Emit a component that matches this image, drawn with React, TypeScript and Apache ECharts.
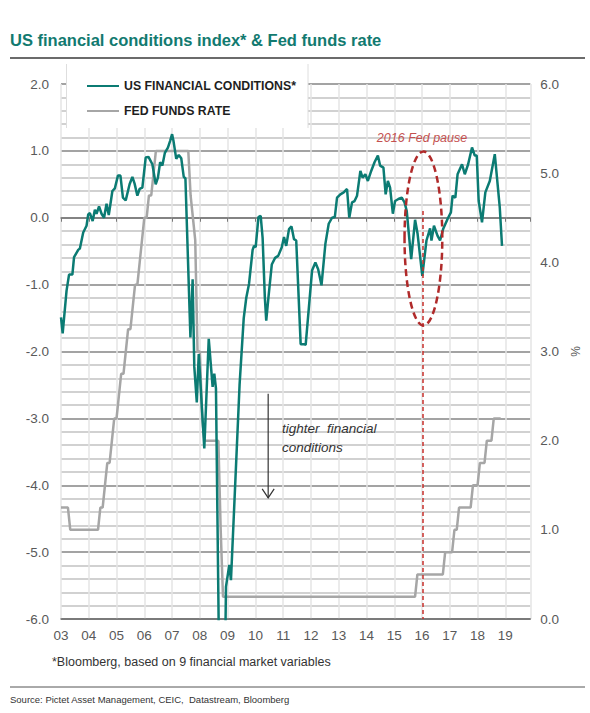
import { useEffect, useRef } from 'react';
import * as echarts from 'echarts';

const titleText = 'US financial conditions index* & Fed funds rate';
const fciName = 'US FINANCIAL CONDITIONS*';
const ffrName = 'FED FUNDS RATE';
const footnote = '*Bloomberg, based on 9 financial market variables';
const sourceText = 'Source: Pictet Asset Management, CEIC,  Datastream, Bloomberg';

// Bloomberg US financial conditions index (left axis)
const fciDates = [
  2003.00, 2003.06, 2003.20, 2003.29, 2003.41, 2003.47, 2003.62, 2003.68, 2003.80, 2003.92, 2003.98,
  2004.04, 2004.14, 2004.22, 2004.28, 2004.37, 2004.46, 2004.55, 2004.64, 2004.72, 2004.76, 2004.85, 2004.94,
  2005.05, 2005.14, 2005.23, 2005.33, 2005.47, 2005.57, 2005.65, 2005.75, 2005.83, 2005.93,
  2006.05, 2006.15, 2006.29, 2006.41, 2006.49, 2006.57, 2006.65, 2006.74, 2006.85, 2006.93,
  2007.00, 2007.05, 2007.15, 2007.24, 2007.33, 2007.42, 2007.48, 2007.66, 2007.74, 2007.80, 2007.89, 2007.96,
  2008.16, 2008.32, 2008.46, 2008.52, 2008.58, 2008.80, 2008.94,
  2009.06, 2009.12, 2009.25, 2009.43, 2009.58, 2009.67, 2009.77, 2009.90, 2009.95,
  2010.01, 2010.11, 2010.19, 2010.26, 2010.34, 2010.39, 2010.47, 2010.59, 2010.71, 2010.82, 2010.95,
  2011.03, 2011.11, 2011.21, 2011.30, 2011.39, 2011.47, 2011.63, 2011.75, 2011.81,
  2012.04, 2012.16, 2012.26, 2012.38, 2012.52, 2012.64, 2012.76, 2012.86, 2012.94,
  2013.06, 2013.18, 2013.30, 2013.38, 2013.48, 2013.57, 2013.66, 2013.78, 2013.86, 2013.96,
  2014.05, 2014.17, 2014.29, 2014.41, 2014.49, 2014.61, 2014.69, 2014.77, 2014.85, 2014.95,
  2015.03, 2015.15, 2015.27, 2015.37, 2015.45, 2015.61, 2015.75, 2015.84,
  2016.01, 2016.16, 2016.29, 2016.34, 2016.43, 2016.56, 2016.65, 2016.76, 2016.94,
  2017.04, 2017.10, 2017.20, 2017.28, 2017.44, 2017.54, 2017.66, 2017.80, 2017.90, 2017.97,
  2018.04, 2018.16, 2018.28, 2018.44, 2018.62, 2018.80, 2018.88,
];
const fciValues = [
  -1.49, -1.73, -1.09, -0.85, -0.85, -0.59, -0.48, -0.46, -0.22, -0.12, 0.05,
  0.07, -0.05, 0.12, 0.06, 0.17, 0.06, 0.0, 0.21, 0.04, 0.15, 0.4, 0.44,
  0.63, 0.63, 0.3, 0.26, 0.5, 0.61, 0.51, 0.33, 0.43, 0.45,
  0.9, 0.91, 0.8, 0.5, 0.6, 0.83, 0.78, 0.97, 1.05, 1.15,
  1.25, 1.15, 0.88, 0.94, 0.89, 0.61, 0.59, -1.79, -0.92, -2.23, -2.76, -2.04,
  -3.45, -1.81, -2.53, -2.33, -2.55, -10.5, -5.52,
  -5.19, -5.42, -4.2, -2.5, -1.5, -1.2, -0.99, -0.48, -0.42,
  -0.44, 0.01, 0.03, -0.3, -1.19, -1.54, -1.19, -0.7, -0.6, -0.57, -0.44,
  -0.29, -0.42, -0.17, -0.13, -0.32, -0.34, -1.89, -1.89, -1.9,
  -0.79, -0.67, -0.77, -1.01, -0.39, -0.09, 0.0, 0.01, 0.3,
  0.35, 0.38, 0.43, 0.0, 0.23, 0.25, 0.33, 0.7, 0.6, 0.65,
  0.55, 0.7, 0.83, 0.93, 0.78, 0.75, 0.35, 0.55, 0.45, 0.06,
  0.25, 0.28, 0.3, 0.23, 0.1, -0.62, -0.03, -0.24,
  -0.87, -0.34, -0.16, -0.34, -0.12, -0.27, -0.34, -0.17, 0.0,
  0.08, 0.33, 0.3, 0.65, 0.8, 0.65, 0.8, 1.05, 0.93, 0.93,
  0.25, -0.07, 0.38, 0.55, 0.95, 0.15, -0.42,
];

// Fed funds rate (right axis, %), monthly from January 2003
const fedFundsStartYear = 2003;
const fedFundsMonthly = [
  1.25, 1.25, 1.25, 1.25, 1.0, 1.0, 1.0, 1.0, 1.0, 1.0, 1.0, 1.0,
  1.0, 1.0, 1.0, 1.0, 1.0, 1.25, 1.25, 1.5, 1.75, 1.75, 2.0, 2.25,
  2.25, 2.5, 2.75, 2.75, 3.0, 3.25, 3.25, 3.5, 3.75, 3.75, 4.0, 4.25,
  4.5, 4.5, 4.75, 4.75, 5.0, 5.25, 5.25, 5.25, 5.25, 5.25, 5.25, 5.25,
  5.25, 5.25, 5.25, 5.25, 5.25, 5.25, 5.25, 5.25, 4.75, 4.5, 4.25, 3.0,
  3.0, 2.25, 2.0, 2.0, 2.0, 2.0, 2.0, 2.0, 2.0, 1.0, 0.25, 0.25,
  0.25, 0.25, 0.25, 0.25, 0.25, 0.25, 0.25, 0.25, 0.25, 0.25, 0.25, 0.25,
  0.25, 0.25, 0.25, 0.25, 0.25, 0.25, 0.25, 0.25, 0.25, 0.25, 0.25, 0.25,
  0.25, 0.25, 0.25, 0.25, 0.25, 0.25, 0.25, 0.25, 0.25, 0.25, 0.25, 0.25,
  0.25, 0.25, 0.25, 0.25, 0.25, 0.25, 0.25, 0.25, 0.25, 0.25, 0.25, 0.25,
  0.25, 0.25, 0.25, 0.25, 0.25, 0.25, 0.25, 0.25, 0.25, 0.25, 0.25, 0.25,
  0.25, 0.25, 0.25, 0.25, 0.25, 0.25, 0.25, 0.25, 0.25, 0.25, 0.25, 0.25,
  0.25, 0.25, 0.25, 0.25, 0.25, 0.25, 0.25, 0.25, 0.25, 0.25, 0.5, 0.5,
  0.5, 0.5, 0.5, 0.5, 0.5, 0.5, 0.5, 0.5, 0.5, 0.5, 0.75, 0.75,
  0.75, 0.75, 1.0, 1.0, 1.25, 1.25, 1.25, 1.25, 1.25, 1.25, 1.5, 1.5,
  1.5, 1.75, 1.75, 1.75, 2.0, 2.0, 2.0, 2.25, 2.25, 2.25, 2.25,
];

const TEAL = '#0b7b73';
const GRAY = '#a6a6a6';
const FONT = '"Liberation Sans", Arial, sans-serif';

export default function App() {
  const ref = useRef<HTMLDivElement>(null);

  useEffect(() => {
    const chart = echarts.init(ref.current!, null, { renderer: 'svg' });
    const fciData = fciDates.map((d, i) => [d, fciValues[i]]);
    const ffData = fedFundsMonthly.map((v, i) => [fedFundsStartYear + i / 12, v]);
    const yearLabel = (v: number) => String(Math.round(v) % 100).padStart(2, '0');

    chart.setOption({
      animation: false,
      backgroundColor: '#ffffff',
      textStyle: { fontFamily: FONT },
      grid: { left: 61, right: 58, top: 84, bottom: 94, containLabel: false },
      legend: {
        data: [fciName, ffrName],
        orient: 'vertical',
        left: 86,
        top: 80,
        padding: 0,
        itemWidth: 32,
        itemHeight: 14,
        itemGap: 13,
        z: 6,
        selectedMode: false,
        itemStyle: { opacity: 0 },
        textStyle: { fontSize: 12.3, fontWeight: 'bold', color: '#1e1e1e', fontFamily: FONT },
      },
      xAxis: [
        {
          type: 'value', min: 2003, max: 2019.9, interval: 1, z: 1,
          axisLine: { onZero: false, lineStyle: { color: '#6e6e6e', width: 1.5 } },
          axisTick: { show: false },
          axisLabel: { formatter: yearLabel, color: '#595959', fontSize: 13.5, margin: 9, showMaxLabel: false },
          splitLine: { show: true, lineStyle: { color: '#e4e4e4', width: 1.5 } },
        },
        {
          type: 'value', min: 2003, max: 2019.9, interval: 1, position: 'bottom', z: 1,
          axisLine: { onZero: true, onZeroAxisIndex: 0, lineStyle: { color: '#7a7a7a', width: 1.5 } },
          axisTick: { show: true, length: 4, lineStyle: { color: '#7a7a7a', width: 1 } },
          axisLabel: { show: false },
          splitLine: { show: false },
        },
      ],
      yAxis: [
        {
          type: 'value', min: -6, max: 2, interval: 1, z: 0,
          axisLine: { show: false },
          axisTick: { show: false },
          axisLabel: { formatter: (v: number) => v.toFixed(1), color: '#595959', fontSize: 13.5, margin: 12 },
          splitLine: { show: true, lineStyle: { color: '#858585', width: 1.5 } },
          minorTick: { show: false, splitNumber: 5 },
          minorSplitLine: { show: true, lineStyle: { color: '#c2c2c2', width: 1.5 } },
        },
        {
          type: 'value', min: 0, max: 6, interval: 1, position: 'right',
          name: '%', nameLocation: 'middle', nameGap: 36, nameRotate: 90,
          nameTextStyle: { color: '#595959', fontSize: 12 },
          axisLine: { show: false },
          axisTick: { show: false },
          splitLine: { show: false },
          axisLabel: { formatter: (v: number) => v.toFixed(1), color: '#595959', fontSize: 13.5, margin: 10 },
        },
      ],
      series: [
        {
          name: ffrName, type: 'line', xAxisIndex: 0, yAxisIndex: 1, data: ffData,
          symbol: 'none', lineStyle: { color: GRAY, width: 2.5 }, itemStyle: { color: GRAY }, z: 2,
        },
        {
          name: fciName, type: 'line', xAxisIndex: 0, yAxisIndex: 0, data: fciData,
          symbol: 'none', lineStyle: { color: TEAL, width: 2.5 }, itemStyle: { color: TEAL }, z: 3,
          markLine: {
            silent: true, symbol: ['none', 'none'], label: { show: false },
            lineStyle: { color: '#c8302c', type: [4, 3], width: 1.5 },
            data: [[{ coord: [2016.02, 0.1] }, { coord: [2016.02, -6] }]],
          },
        },
      ],
    });

    const P = (x: number, y: number) =>
      chart.convertToPixel({ xAxisIndex: 0, yAxisIndex: 0 }, [x, y]) as number[];

    const ec = P(2016.05, -0.31);
    const eRight = P(2016.73, -0.31);
    const eTop = P(2016.05, 0.99);
    const aTop = P(2010.46, -2.63);
    const aBot = P(2010.46, -4.19);
    const t1 = P(2010.96, -3.15);
    const t2 = P(2010.96, -3.44);
    const pause = P(2016.0, 1.19);

    chart.setOption({
      graphic: [
        { type: 'text', x: 10, y: 40, z: 10, style: { text: titleText, fill: '#127a70', font: `bold 16.5px ${FONT}`, textVerticalAlign: 'middle' } },
        { type: 'line', z: 10, shape: { x1: 10, y1: 58, x2: 585, y2: 58 }, style: { stroke: '#3a3a3a', lineWidth: 1.5 } },
        { type: 'rect', z: 4, shape: { x: 66.5, y: 64, width: 241.5, height: 64 }, style: { fill: '#ffffff' } },
        { type: 'line', z: 5, shape: { x1: 66.5, y1: 64, x2: 66.5, y2: 128 }, style: { stroke: '#dedede', lineWidth: 1 } },
        { type: 'line', z: 5, shape: { x1: 308, y1: 64, x2: 308, y2: 128 }, style: { stroke: '#dedede', lineWidth: 1 } },
        {
          type: 'ellipse', z: 8,
          shape: { cx: ec[0], cy: ec[1], rx: Math.abs(eRight[0] - ec[0]), ry: Math.abs(ec[1] - eTop[1]) },
          style: { fill: 'none', stroke: '#b02a2a', lineWidth: 2.5, lineDash: [7, 4] },
        },
        { type: 'text', x: pause[0], y: pause[1], z: 8, style: { text: '2016 Fed pause', fill: '#c4504f', font: `italic 12.5px ${FONT}`, textAlign: 'center', textVerticalAlign: 'middle' } },
        { type: 'line', z: 8, shape: { x1: aTop[0], y1: aTop[1], x2: aBot[0], y2: aBot[1] }, style: { stroke: '#333333', lineWidth: 1.2 } },
        { type: 'polyline', z: 8, shape: { points: [[aBot[0] - 6, aBot[1] - 9], [aBot[0], aBot[1]], [aBot[0] + 6, aBot[1] - 9]] }, style: { fill: 'none', stroke: '#333333', lineWidth: 1.2 } },
        { type: 'text', x: t1[0], y: t1[1], z: 8, style: { text: 'tighter  financial', fill: '#333333', font: `italic 13.5px ${FONT}`, textVerticalAlign: 'middle' } },
        { type: 'text', x: t2[0], y: t2[1], z: 8, style: { text: 'conditions', fill: '#333333', font: `italic 13.5px ${FONT}`, textVerticalAlign: 'middle' } },
        { type: 'text', x: 52, y: 662, z: 10, style: { text: footnote, fill: '#333333', font: `12.5px ${FONT}`, textVerticalAlign: 'middle' } },
        { type: 'line', z: 10, shape: { x1: 10, y1: 687, x2: 585, y2: 687 }, style: { stroke: '#555555', lineWidth: 1 } },
        { type: 'text', x: 10, y: 699, z: 10, style: { text: sourceText, fill: '#333333', font: `9.5px ${FONT}`, textVerticalAlign: 'middle' } },
      ],
    });

    return () => chart.dispose();
  }, []);

  return (
    <div
      ref={ref}
      style={{ position: 'fixed', left: 0, top: 0, width: 590, height: 713, background: '#fff' }}
    />
  );
}
